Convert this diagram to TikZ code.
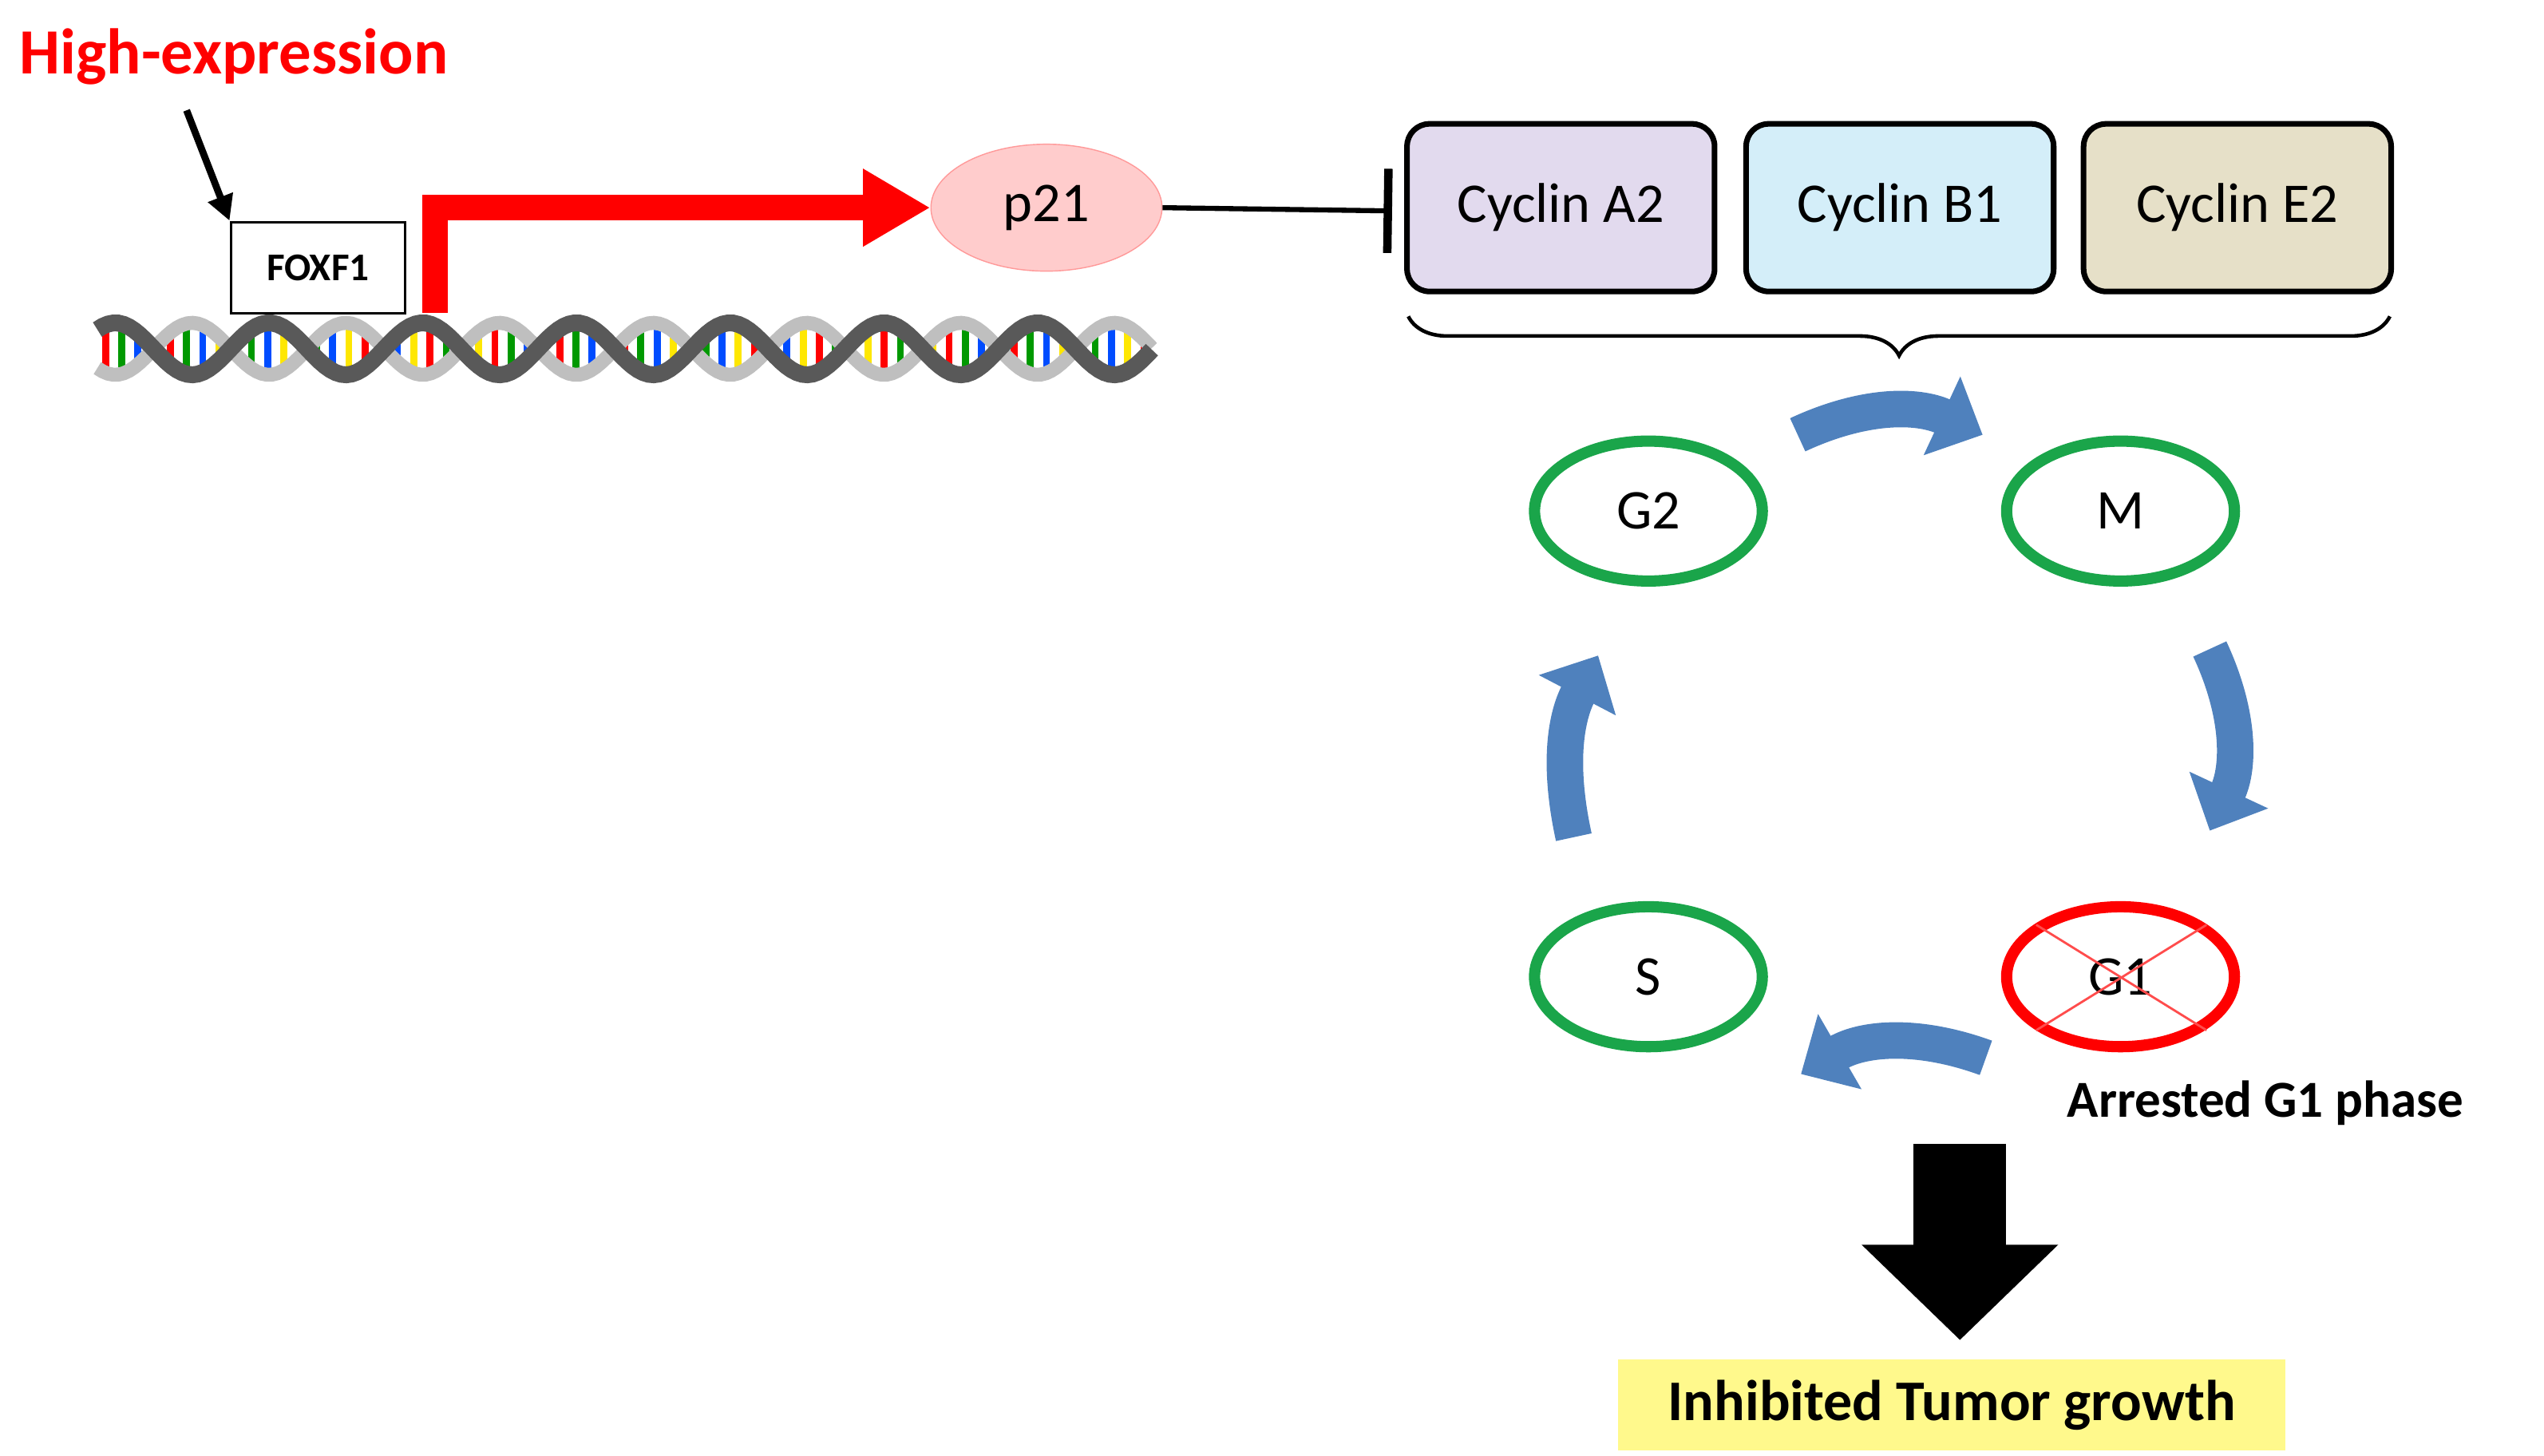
\documentclass[tikz,border=0pt]{standalone}
\usepackage{fontspec}
\setmainfont{Carlito}
\usetikzlibrary{arrows.meta,shapes.geometric,decorations.pathreplacing}
\definecolor{cblue}{HTML}{4F81BD}
\definecolor{cgreen}{HTML}{1AA54A}
\definecolor{cpurple}{HTML}{E2DAEE}
\definecolor{clblue}{HTML}{D4EEF9}
\definecolor{cbeige}{HTML}{E6E0C8}
\tikzset{
 cyc/.style={draw,line width=2pt,rounded corners=8pt,minimum width=189*0.58pt,minimum height=103*0.58pt,font=\fontsize{20}{24}\selectfont},
 phase/.style={ellipse,draw=cgreen,line width=4pt,minimum width=140*0.58pt,minimum height=86*0.58pt,font=\fontsize{20}{24}\selectfont},
 barr/.style={cblue,line width=13pt,-{Triangle[length=16pt,width=30pt]}},
}
\begin{document}
\begin{tikzpicture}[x=0.02033cm,y=-0.02033cm]
\useasboundingbox (0,0) rectangle (1568,897);
% DNA
\foreach \i in {0,...,64}{
  \pgfmathsetmacro{\xx}{65+\i*10}
  \pgfmathsetmacro{\c}{mod(\i,4)}
  \pgfmathsetmacro{\ya}{215+16*sin(\xx*3.8)}
  \pgfmathsetmacro{\yb}{215-16*sin(\xx*3.8)}
  \ifcase\numexpr\c\relax \def\col{red}\or\def\col{green!60!black}\or\def\col{blue!70!cyan}\or\def\col{yellow!90!orange}\fi
  \draw[\col,line width=2.5pt] (\xx,\ya) -- (\xx,\yb);
}
\draw[gray!50,line width=5pt,domain=60:710,samples=200] plot (\x,{215-16*sin(\x*3.8)});
\draw[black!65,line width=6pt,domain=60:710,samples=200] plot (\x,{215+16*sin(\x*3.8)});
% labels
\node[anchor=west,text=red,font=\bfseries\fontsize{23}{26}\selectfont] (hi) at (6,35) {High-expression};
\node[draw,line width=1pt,fill=white,minimum width=107*0.58pt,minimum height=56*0.58pt,font=\bfseries\fontsize{14}{16}\selectfont] (fox) at (196,165) {FOXF1};
\coordinate (ha) at (115,68);
\draw[line width=2.5pt,-{Triangle[length=9pt,width=9pt]}] (ha) -- (fox.north west);
\coordinate (r0) at (268,193);
\coordinate (r1) at (268,128);
\node[ellipse,draw=red!40,fill=red!20,minimum width=142*0.58pt,minimum height=78*0.58pt,font=\fontsize{20}{24}\selectfont] (p21) at (645,128) {p21};
\draw[red,line width=9pt,-{Triangle[length=24pt,width=26pt]}] (r0) -- (r1) -- (p21.west);
\node[cyc,fill=cpurple] (a2) at (962,128) {Cyclin A2};
\node[cyc,fill=clblue] (b1) at (1171,128) {Cyclin B1};
\node[cyc,fill=cbeige] (e2) at (1379,128) {Cyclin E2};
\coordinate (bar) at (858,130);
\draw[line width=1.8pt,-{Bar[width=30pt,line width=3pt]}] (p21.east) -- (bar);
\draw[line width=1.3pt,decorate,decoration={brace,mirror,amplitude=14pt}] (868,195) -- (1473,195);
% phases
\node[phase] (g2) at (1016,315) {G2};
\node[phase] (m) at (1307,315) {M};
\node[phase] (s) at (1016,602) {S};
\node[phase,draw=red] (g1) at (1307,602) {G1};
\draw[red!70,line width=0.8pt] (1255,570) -- (1360,635) (1255,635) -- (1360,570);
\node[anchor=west,font=\bfseries\fontsize{18.5}{21}\selectfont] (arr) at (1268,680) {Arrested G1 phase};
% cycle arrows
\coordinate (t0) at (1108,268); \coordinate (t1) at (1222,268);
\draw[barr] (t0) to[bend left=25] (t1);
\coordinate (r0a) at (1362,400); \coordinate (r1a) at (1362,512);
\draw[barr] (r0a) to[bend left=25] (r1a);
\coordinate (b0) at (1224,652); \coordinate (b1a) at (1110,662);
\draw[barr] (b0) to[bend right=25] (b1a);
\coordinate (l0) at (970,516); \coordinate (l1) at (985,404);
\draw[barr] (l0) to[bend left=20] (l1);
% big arrow
\node[fill=yellow!45,minimum width=410*0.58pt,minimum height=56*0.58pt,font=\bfseries\fontsize{20.5}{23}\selectfont] (inh) at (1203,866) {Inhibited Tumor growth};
\coordinate (ba) at (1208,705);
\draw[line width=33pt,-{Triangle[length=34pt,width=68pt]}] (ba) -- (1208,826);
\end{tikzpicture}
\end{document}
